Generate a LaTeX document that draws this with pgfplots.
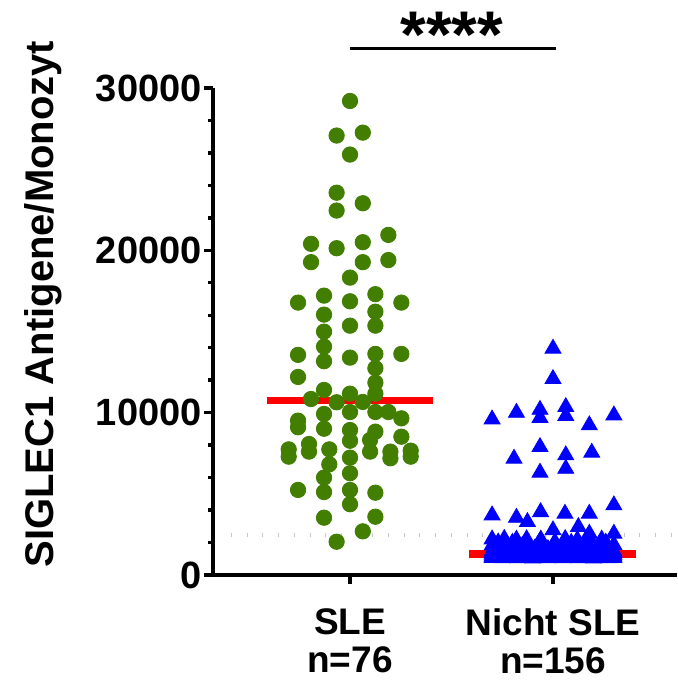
\documentclass[border=0pt]{standalone}
\usepackage{fontspec}
\setmainfont{Liberation Sans}
\usepackage{pgfplots}
\pgfplotsset{compat=1.18}
\definecolor{sgreen}{RGB}{66,126,0}
\definecolor{dotgray}{RGB}{200,200,200}
\begin{document}
\begin{tikzpicture}
\useasboundingbox (-106.5pt,-54.5pt) rectangle (232pt,287.5pt);
\begin{axis}[
  at={(0,0)}, anchor=south west,
  scale only axis, width=232pt, height=243.5pt,
  xmin=0.325, xmax=2.611, ymin=0, ymax=30000,
  clip=false,
  axis x line=bottom, axis y line=left,
  axis line style={-, line width=2.4pt},
  tick align=outside,
  major tick length=4.5pt, minor tick length=2.6pt,
  every tick/.style={black, line width=1.7pt},
  scaled y ticks=false,
  xtick={1,2},
  xticklabels={{SLE\\n=76},{Nicht SLE\\n=156}},
  xticklabel style={font=\fontsize{18.5}{19}\selectfont\bfseries, align=center, inner ysep=0pt, yshift=-12pt},
  ytick={0,10000,20000,30000},
  minor ytick={2000,4000,6000,8000,12000,14000,16000,18000,22000,24000,26000,28000},
  yticklabel style={font=\fontsize{19}{19}\selectfont\bfseries, inner xsep=0pt, xshift=-1pt},
  /pgf/number format/.cd, 1000 sep={}, fixed, assume math mode=true,
]
% threshold line
\addplot[dotgray, line width=2pt, dash pattern=on 0.5pt off 7.35pt] coordinates {(0.414,2470) (2.611,2470)};
% medians
\addplot[red, line width=3.8pt] coordinates {(0.59,10740) (1.41,10740)};
\addplot[red, line width=3.8pt] coordinates {(1.584,1290) (2.41,1290)};
% SLE
\addplot[only marks, mark=*, mark size=3.85pt, color=sgreen] coordinates {
(1.000,29200) (0.934,27070) (1.063,27250) (1.000,25900) (0.934,23550) (1.063,22900)
(0.934,22450) (0.808,20400) (0.934,20130) (1.063,20500) (1.189,20950) (0.808,19270)
(1.063,19270) (1.189,19400) (1.000,18320) (0.744,16780) (0.872,17210) (1.000,16860)
(1.125,17300) (1.253,16780) (0.872,16040) (1.125,16220) (0.872,14990) (1.000,15360)
(1.125,15360) (0.872,14070) (0.744,13560) (0.872,13170) (1.000,13390) (1.125,13620)
(1.253,13620) (1.125,12740) (0.744,12200) (1.125,11850) (0.872,11400) (1.000,11170)
(1.125,11170) (0.808,10840) (0.934,10640) (1.063,10660) (0.872,9920) (1.000,10040)
(1.125,10040) (1.189,10040) (0.744,9510) (0.744,9100) (0.872,9010) (1.000,8930)
(1.000,8270) (1.125,8830) (1.099,8320) (1.253,9650) (1.253,8520) (0.698,7740)
(0.698,7290) (0.798,8070) (0.798,7600) (0.898,7740) (0.898,6820) (1.000,7230)
(1.099,7600) (1.199,7600) (1.199,7190) (1.299,7660) (1.299,7290) (0.872,6000)
(1.000,6270) (0.744,5240) (0.872,5110) (1.000,5240) (1.000,4360) (1.125,5070)
(0.872,3530) (1.125,3590) (1.063,2690) (0.934,2050)
};
% Nicht SLE
\addplot[only marks, mark=triangle*, mark size=4.6pt, color=blue] coordinates {
(2.000,13950) (2.000,12080) (1.700,9590) (1.820,10000) (1.936,10180) (1.936,9680)
(2.063,10350) (2.063,9800) (2.179,9230) (2.300,9840) (1.936,7890) (1.808,7170)
(2.063,7380) (2.191,7540) (1.936,6310) (2.063,6550) (1.700,3680) (1.820,3530)
(1.874,3270) (1.939,3880) (2.059,3780) (2.179,3780) (2.300,4300) (2.000,2760)
(2.125,2960) (2.179,2550) (2.300,2550)
(1.700,2200) (1.760,2230) (1.820,2180) (1.870,2210) (1.940,2190) (2.060,2220) (2.120,2170) (2.180,2240) (2.240,2190)
(1.730,2010) (1.800,1990) (1.870,2030) (1.940,1980) (2.010,2020) (2.090,1990) (2.160,2040) (2.260,2000)
(1.700,1820) (1.775,1840) (1.850,1810) (1.925,1850) (2.000,1830) (2.075,1800) (2.150,1840) (2.225,1820) (2.300,1850)
(1.715,1620) (1.780,1640) (1.845,1610) (1.910,1630) (1.975,1600) (2.040,1640) (2.105,1620) (2.170,1600) (2.235,1630) (2.290,1610)
(1.700,1460) (1.755,1480) (1.809,1450) (1.864,1470) (1.918,1440) (1.973,1490) (2.027,1460) (2.082,1450) (2.136,1480) (2.191,1470) (2.245,1440) (2.300,1460)
(1.700,1350) (1.746,1370) (1.792,1340) (1.838,1360) (1.885,1330) (1.931,1370) (1.977,1350) (2.023,1340) (2.069,1360) (2.115,1330) (2.162,1370) (2.208,1350) (2.254,1340) (2.300,1360)
(1.700,1250) (1.732,1260) (1.763,1240) (1.795,1250) (1.826,1270) (1.858,1240) (1.889,1250) (1.921,1260) (1.953,1230) (1.984,1250)
(2.016,1260) (2.047,1240) (2.079,1250) (2.111,1270) (2.142,1240) (2.174,1250) (2.205,1260) (2.237,1240) (2.268,1250) (2.300,1260)
(1.700,1150) (1.729,1160) (1.757,1140) (1.786,1150) (1.814,1170) (1.843,1140) (1.871,1150) (1.900,1160) (1.929,1130) (1.957,1150) (1.986,1160)
(2.014,1140) (2.043,1150) (2.071,1170) (2.100,1140) (2.129,1150) (2.157,1160) (2.186,1130) (2.214,1150) (2.243,1160) (2.271,1140) (2.300,1150)
(1.700,1050) (1.725,1060) (1.750,1040) (1.775,1050) (1.800,1070) (1.825,1040) (1.850,1050) (1.875,1060) (1.900,1030) (1.925,1050) (1.950,1060) (1.975,1040) (2.000,1050)
(2.025,1060) (2.050,1040) (2.075,1050) (2.100,1070) (2.125,1040) (2.150,1050) (2.175,1060) (2.200,1030) (2.225,1050) (2.250,1060) (2.275,1040) (2.300,1050)
};
% significance
\draw[line width=1.5pt] (axis cs:1,32460) -- (axis cs:2.015,32460);
\node[anchor=north, inner sep=0pt, font=\fontsize{33}{33}\selectfont\bfseries] at (axis cs:1.502,34680) {****};
% y label
\node[rotate=90, inner sep=0pt, font=\fontsize{20}{20}\selectfont\bfseries] at (axis cs:-0.512,16690) {SIGLEC1 Antigene/Monozyt};
\end{axis}
\end{tikzpicture}
\end{document}
